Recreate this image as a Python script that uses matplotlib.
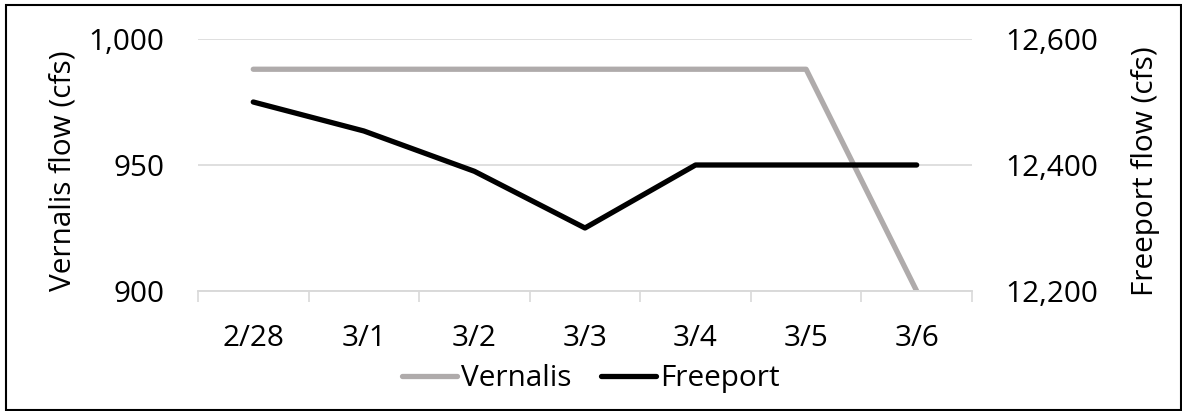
import matplotlib
matplotlib.use('Agg')
import matplotlib.pyplot as plt
from matplotlib.patches import Rectangle

# data
dates = ['2/28', '3/1', '3/2', '3/3', '3/4', '3/5', '3/6']
vernalis = [988, 988, 988, 988, 988, 988, 900]
freeport = [12500, 12454, 12390, 12300, 12400, 12400, 12400]

plt.rcParams['font.family'] = ['Open Sans', 'DejaVu Sans']
plt.rcParams['font.size'] = 21.4

grid_col = '#D9D9D9'
gray_col = '#AFABAB'

fig = plt.figure(figsize=(11.82, 4.11), dpi=100)
ax = fig.add_axes([0.1675, 0.292, 0.6548, 0.6131])
ax2 = ax.twinx()

x = list(range(len(dates)))
l1, = ax.plot(x, vernalis, color=gray_col, lw=3.8, solid_capstyle='round',
              solid_joinstyle='round', label='Vernalis')
l2, = ax2.plot(x, freeport, color='black', lw=3.8, solid_capstyle='round',
               solid_joinstyle='round', label='Freeport')

ax.set_xlim(-0.5, len(dates) - 0.5)
ax.set_ylim(900, 1000)
ax.set_yticks([900, 950, 1000])
ax.set_yticklabels(['900', '950', '1,000'])
ax2.set_ylim(12200, 12600)
ax2.set_yticks([12200, 12400, 12600])
ax2.set_yticklabels(['12,200', '12,400', '12,600'])

ax.set_xticks(x)
ax.set_xticklabels(dates)
ax.set_xticks([i - 0.5 for i in range(len(dates) + 1)], minor=True)
ax.tick_params(axis='x', which='major', length=0, pad=24)
ax.tick_params(axis='x', which='minor', length=8, width=1.2, color=grid_col)
ax.tick_params(axis='y', length=0, pad=24)
ax2.tick_params(axis='y', length=0, pad=24)

ax.yaxis.grid(True, color=grid_col, lw=1.2)
ax.set_axisbelow(True)
for a in (ax, ax2):
    for s in ('top', 'left', 'right'):
        a.spines[s].set_visible(False)
    a.spines['bottom'].set_color(grid_col)
    a.spines['bottom'].set_linewidth(1.2)

fig.text(0.053, 0.584, 'Vernalis flow (cfs)', rotation=90, ha='center', va='center')
fig.text(0.969, 0.584, 'Freeport flow (cfs)', rotation=90, ha='center', va='center')

fig.legend(handles=[l1, l2], loc='center', bbox_to_anchor=(0.5, 0.078),
           ncol=2, frameon=False, handlelength=1.85, handletextpad=0.13,
           columnspacing=1.0, borderaxespad=0, borderpad=0)

fig.patches.append(Rectangle((0.005, 0.002), 0.994, 0.985, transform=fig.transFigure,
                             fill=False, edgecolor='black', lw=1.5))

fig.savefig('out.png', dpi=100)
